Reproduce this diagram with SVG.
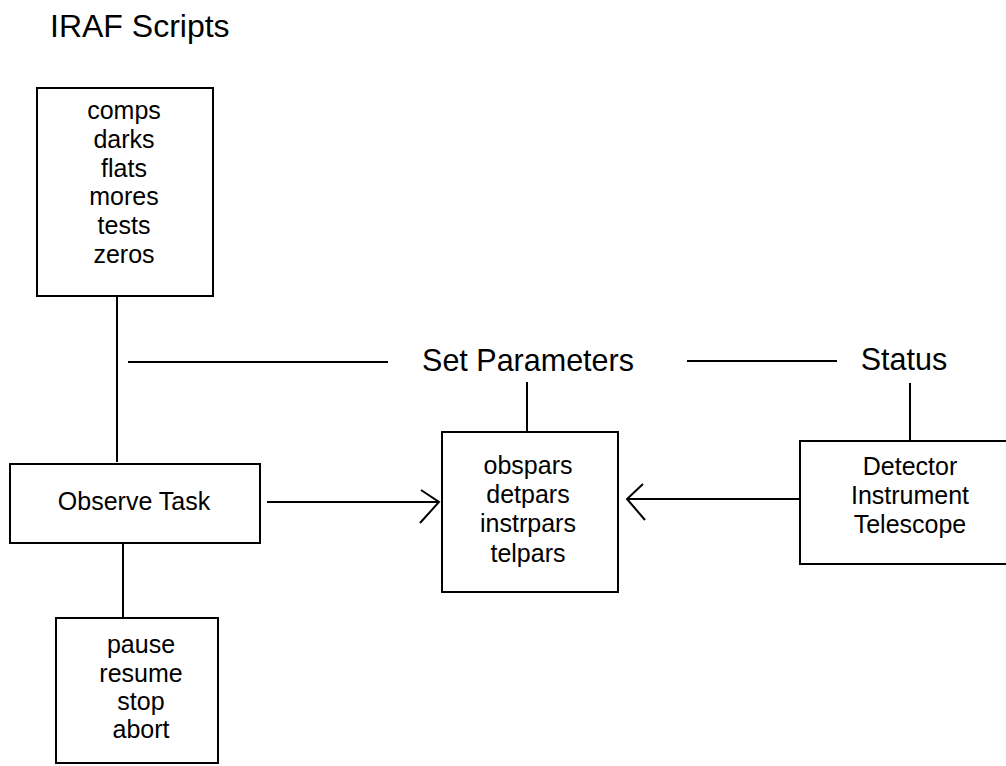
<svg xmlns="http://www.w3.org/2000/svg" width="1006" height="766" viewBox="0 0 1006 766">
  <style>
    .box { fill: #fff; stroke: #000; stroke-width: 2; }
    .ln { fill: none; stroke: #000; stroke-width: 2; }
    .t { font-family: "Liberation Sans", Arial, sans-serif; fill: #000; text-anchor: middle; }
    .item { font-size: 25px; }
    .head { font-size: 30.5px; }
  </style>
  <rect width="1006" height="766" fill="#fff"/>

  <text x="50" y="37" class="t" style="text-anchor:start;font-size:32px">IRAF Scripts</text>

  <g id="connectors">
    <!-- scripts box down to observe task -->
    <line x1="117" y1="296" x2="117" y2="462" class="ln"/>
    <!-- parameter bus -->
    <line x1="128" y1="362" x2="388" y2="362" class="ln"/>
    <line x1="687" y1="361" x2="837" y2="361" class="ln"/>
    <line x1="527" y1="382" x2="527" y2="432" class="ln"/>
    <line x1="910" y1="383" x2="910" y2="441" class="ln"/>
    <!-- observe task down to control commands -->
    <line x1="123" y1="543" x2="123" y2="618" class="ln"/>
    <!-- observe task to parameter sets -->
    <line x1="267" y1="502" x2="439" y2="502" class="ln"/>
    <polyline points="421,490 439,502 420,523" class="ln"/>
    <!-- status to parameter sets -->
    <line x1="627" y1="499" x2="800" y2="499" class="ln"/>
    <polyline points="643,484 627,499 645,520" class="ln"/>
  </g>

  <g id="scripts">
    <rect x="37" y="88" width="176" height="208" class="box"/>
    <text class="t item" x="124" y="119">comps</text>
    <text class="t item" x="124" y="148">darks</text>
    <text class="t item" x="124" y="177">flats</text>
    <text class="t item" x="124" y="205">mores</text>
    <text class="t item" x="124" y="234">tests</text>
    <text class="t item" x="124" y="263">zeros</text>
  </g>

  <g id="set-parameters">
    <text class="t head" x="528" y="371">Set Parameters</text>
  </g>

  <g id="status">
    <text class="t head" x="904" y="370">Status</text>
  </g>

  <g id="observe-task">
    <rect x="10" y="464" width="250" height="79" class="box"/>
    <text class="t item" x="134" y="510">Observe Task</text>
  </g>

  <g id="parameter-sets">
    <rect x="442" y="432" width="176" height="160" class="box"/>
    <text class="t item" x="528" y="474">obspars</text>
    <text class="t item" x="528" y="503">detpars</text>
    <text class="t item" x="528" y="532">instrpars</text>
    <text class="t item" x="528" y="562">telpars</text>
  </g>

  <g id="hardware">
    <rect x="800" y="441" width="230" height="123" class="box"/>
    <text class="t item" x="910" y="475">Detector</text>
    <text class="t item" x="910" y="504">Instrument</text>
    <text class="t item" x="910" y="533">Telescope</text>
  </g>

  <g id="controls">
    <rect x="56" y="618" width="162" height="145" class="box"/>
    <text class="t item" x="141" y="653">pause</text>
    <text class="t item" x="141" y="682">resume</text>
    <text class="t item" x="141" y="710">stop</text>
    <text class="t item" x="141" y="738">abort</text>
  </g>
</svg>
